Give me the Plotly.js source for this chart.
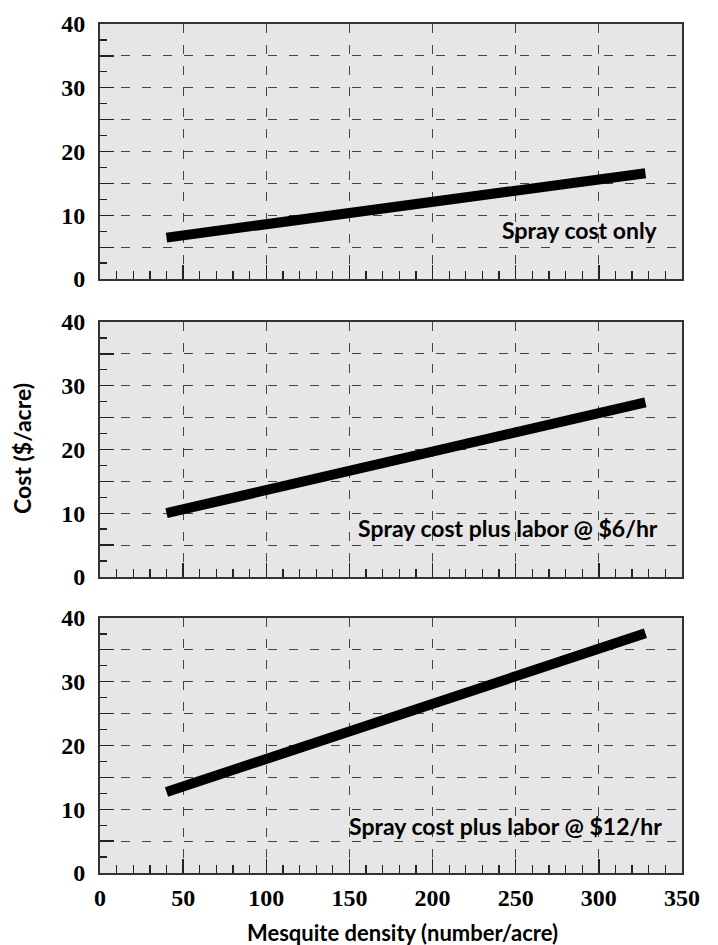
<!DOCTYPE html>
<html>
<head>
<meta charset="utf-8">
<script src="https://cdn.plot.ly/plotly-3.0.1.min.js"></script>
<style>html,body{margin:0;padding:0;background:#fff;}#chart{width:718px;height:945px;}</style>
</head>
<body>
<div id="chart"></div>
<script>
// Data
var density = [40, 328];
var sprayOnly = [6.5, 16.6];
var sprayLabor6 = [10.0, 27.4];
var sprayLabor12 = [12.7, 37.6];
var panelLabels = ["Spray cost only", "Spray cost plus labor @ $6/hr", "Spray cost plus labor @ $12/hr"];
var xTickVals = [0, 50, 100, 150, 200, 250, 300, 350];
var xTickText = ["0", "50", "100", "150", "200", "250", "300", "350"];
var yTickVals = [0, 5, 10, 15, 20, 25, 30, 35, 40];
var yTickText = ["0", "", "10", "", "20", "", "30", "", "40"];
var xTitle = "Mesquite density (number/acre)";
var yTitle = "Cost ($/acre)";

function boldList(arr) { return arr.map(function (s) { return s ? "<b>" + s + "</b>" : ""; }); }

var series = [sprayOnly, sprayLabor6, sprayLabor12];
var domains = [[0.6996, 1], [0.3487, 0.649], [0, 0.3004]];
var tickFont = {family: "Liberation Serif", size: 24, color: "#000"};
var gridColor = "#444";
var labelFont = {family: "Lato", size: 23, color: "#000", weight: "bold"};

var traces = [];
var layout = {
  width: 718, height: 945,
  margin: {l: 100, r: 36, t: 24, b: 72},
  paper_bgcolor: "#fff",
  showlegend: false,
  annotations: [],
  font: {family: "Lato", color: "#000"}
};

for (var i = 0; i < 3; i++) {
  var xa = i === 0 ? "x" : "x" + (i + 1);
  var ya = i === 0 ? "y" : "y" + (i + 1);
  traces.push({
    x: density, y: series[i], xaxis: xa, yaxis: ya,
    type: "scatter", mode: "lines",
    line: {color: "#000", width: 10},
    hoverinfo: "skip"
  });
  var xkey = i === 0 ? "xaxis" : "xaxis" + (i + 1);
  var ykey = i === 0 ? "yaxis" : "yaxis" + (i + 1);
  layout[xkey] = {
    domain: [0, 1], range: [0, 350], anchor: ya,
    tickmode: "array", tickvals: xTickVals, ticktext: boldList(xTickText),
    showticklabels: i === 2,
    ticks: "inside", ticklen: 14, tickwidth: 1.3, tickcolor: "#222",
    minor: {dtick: 10, tick0: 0, ticks: "inside", ticklen: 8, tickwidth: 1.3, tickcolor: "#222", showgrid: false},
    showgrid: true, gridcolor: gridColor, gridwidth: 1.1, griddash: "9px,12px",
    showline: true, linecolor: "#333", linewidth: 2, mirror: true,
    zeroline: false,
    tickfont: tickFont, ticklabelstandoff: 2,
    fixedrange: true
  };
  layout[ykey] = {
    domain: domains[i], range: [0, 40], anchor: xa,
    tickmode: "array", tickvals: yTickVals, ticktext: boldList(yTickText),
    ticks: "inside", ticklen: 14, tickwidth: 1.3, tickcolor: "#222",
    minor: {dtick: 2.5, tick0: 0, ticks: "inside", ticklen: 7, tickwidth: 1.3, tickcolor: "#222", showgrid: false},
    showgrid: true, gridcolor: gridColor, gridwidth: 1.1, griddash: "9px,12px",
    showline: true, linecolor: "#333", linewidth: 2, mirror: true,
    zeroline: false,
    tickfont: tickFont, ticklabelstandoff: 8,
    fixedrange: true
  };
  layout.annotations.push({
    xref: xa, yref: ya, x: i === 2 ? 339 : 336.5, y: i === 2 ? 7.3 : 7.7,
    xanchor: "right", yanchor: "middle", showarrow: false,
    text: "<b>" + panelLabels[i] + "</b>",
    font: labelFont
  });
}
layout.plot_bgcolor = "#e6e6e6";
layout.annotations.push({
  xref: "paper", yref: "paper", x: 0.52, y: -0.07, xanchor: "center", yanchor: "middle",
  showarrow: false, text: "<b>" + xTitle + "</b>",
  font: {family: "Lato", size: 22, color: "#000"}
});
layout.annotations.push({
  xref: "paper", yref: "paper", x: -0.135, y: 0.5, xanchor: "center", yanchor: "middle",
  textangle: -90, showarrow: false, text: "<b>" + yTitle + "</b>",
  font: {family: "Lato", size: 23, color: "#000"}
});

Plotly.newPlot("chart", traces, layout, {displayModeBar: false, staticPlot: true});
</script>
</body>
</html>
